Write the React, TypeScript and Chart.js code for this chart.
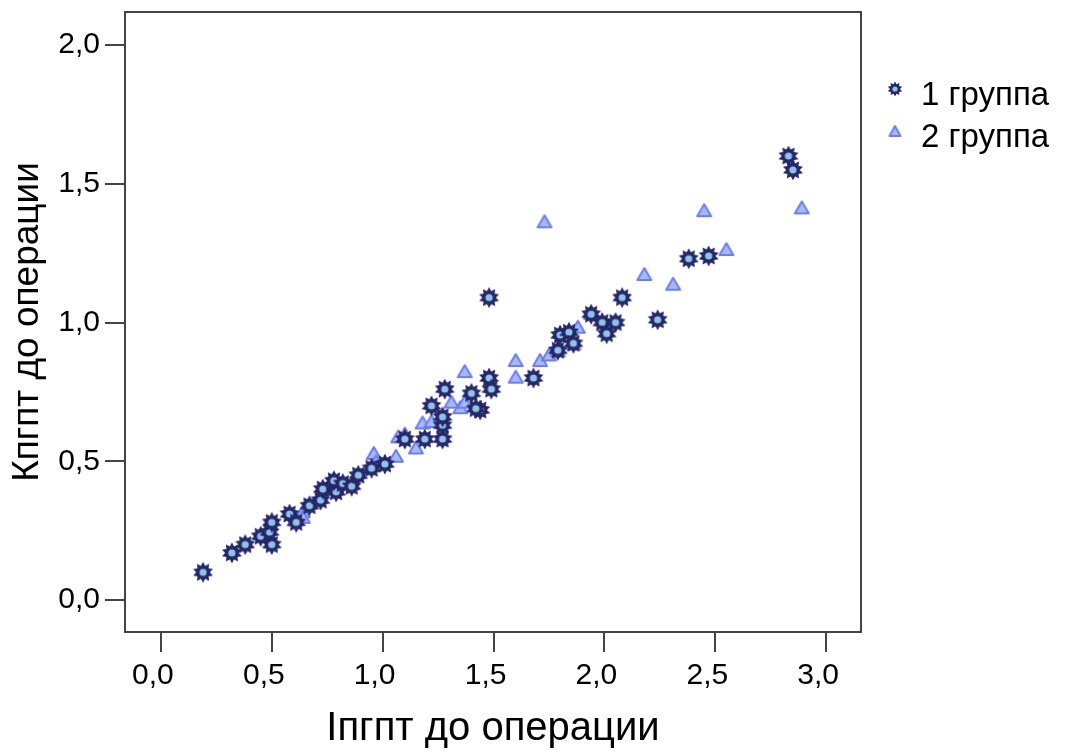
import React, { useEffect, useRef } from "react";
import { Chart, registerables } from "chart.js";

Chart.register(...registerables);

// ---- data ----
const xTickValues = [0, 0.5, 1, 1.5, 2, 2.5, 3];
const yTickValues = [0, 0.5, 1, 1.5, 2];

const seriesNames = ["1 группа", "2 группа"];
const xTitle = "Іпгпт до операции";
const yTitle = "Кпгпт до операции";

const group1X = [
  0.19, 0.32, 0.38, 0.45, 0.5, 0.49, 0.5, 0.58, 0.61, 0.67, 0.72, 0.73, 0.79, 0.78, 0.82, 0.86,
  0.89, 0.95, 1.01, 1.1, 1.19, 1.27, 1.27, 1.27, 1.22, 1.28, 1.4, 1.44, 1.42, 1.48, 1.49, 1.48,
  1.68, 1.79, 1.8, 1.84, 1.86, 1.94, 1.99, 2.01, 2.05, 2.08, 2.24, 2.38, 2.47, 2.83, 2.85,
];
const group1Y = [
  0.1, 0.17, 0.2, 0.23, 0.2, 0.245, 0.28, 0.31, 0.28, 0.34, 0.36, 0.4, 0.39, 0.43, 0.42, 0.41,
  0.45, 0.475, 0.49, 0.58, 0.58, 0.58, 0.63, 0.66, 0.7, 0.76, 0.745, 0.685, 0.69, 0.8, 0.76, 1.09,
  0.8, 0.9, 0.955, 0.965, 0.925, 1.03, 1.0, 0.96, 1.0, 1.09, 1.01, 1.23, 1.24, 1.6, 1.55,
];

const group2X = [
  0.64, 0.64, 0.96, 0.97, 1.06, 1.07, 1.1, 1.15, 1.18, 1.22, 1.31, 1.35, 1.37, 1.37, 1.6, 1.6,
  1.71, 1.75, 1.79, 1.86, 1.88, 1.94, 2.18, 2.31, 2.55, 2.45, 1.73, 2.89,
];
const group2Y = [
  0.32, 0.3, 0.53, 0.5, 0.52, 0.59, 0.6, 0.55, 0.64, 0.645, 0.715, 0.695, 0.715, 0.825, 0.865, 0.805,
  0.865, 0.885, 0.9, 0.925, 0.985, 1.035, 1.175, 1.14, 1.265, 1.405, 1.365, 1.415,
];

// ---- styling ----
const FONT = "'Liberation Sans', Arial, sans-serif";
const STAR_DARK = "#25266b";
const STAR_LIGHT = "#8ec3e2";
const TRI_FILL = "#a3bbf5";
const TRI_STROKE = "#6c7cf2";
const FRAME = "#444444";

function makeStar(size: number, ro: number, ri: number, rc: number): HTMLCanvasElement {
  const c = document.createElement("canvas");
  c.width = size;
  c.height = size;
  const g = c.getContext("2d")!;
  const cx = size / 2, cy = size / 2, n = 10;
  g.beginPath();
  for (let i = 0; i < n * 2; i++) {
    const r = i % 2 === 0 ? ro : ri;
    const a = (Math.PI * i) / n - Math.PI / 2;
    const px = cx + r * Math.cos(a);
    const py = cy + r * Math.sin(a);
    if (i === 0) g.moveTo(px, py);
    else g.lineTo(px, py);
  }
  g.closePath();
  g.fillStyle = STAR_DARK;
  g.fill();
  g.beginPath();
  g.arc(cx, cy, rc, 0, Math.PI * 2);
  g.fillStyle = STAR_LIGHT;
  g.fill();
  return c;
}

function makeTriangle(w: number, h: number): HTMLCanvasElement {
  const c = document.createElement("canvas");
  c.width = w + 4;
  c.height = h + 4;
  const g = c.getContext("2d")!;
  g.beginPath();
  g.moveTo(2 + w / 2, 2);
  g.lineTo(2 + w, 2 + h);
  g.lineTo(2, 2 + h);
  g.closePath();
  g.fillStyle = TRI_FILL;
  g.fill();
  g.lineWidth = 2;
  g.strokeStyle = TRI_STROKE;
  g.lineJoin = "round";
  g.stroke();
  return c;
}

const fmt = (v: number) => v.toFixed(1).replace(".", ",");

const noPad = (s: any) => {
  s.paddingTop = 0;
  s.paddingBottom = 0;
  s.paddingLeft = 0;
  s.paddingRight = 0;
};

export default function App() {
  const ref = useRef<HTMLCanvasElement | null>(null);

  useEffect(() => {
    if (!ref.current) return;
    const star = makeStar(24, 10.5, 6.8, 3.6);
    const tri = makeTriangle(14, 12);
    const legStar = makeStar(18, 7.5, 5, 2.6);
    const legTri = makeTriangle(11, 10);

    const framePlugin = {
      id: "frameAndLegend",
      afterDraw(chart: any) {
        const { ctx, chartArea } = chart;
        ctx.save();
        ctx.strokeStyle = FRAME;
        ctx.lineWidth = 2;
        ctx.strokeRect(chartArea.left, chartArea.top, chartArea.right - chartArea.left, chartArea.bottom - chartArea.top);
        // legend
        const lx = 895;
        const items = [
          { img: legStar, y: 89, base: 105, label: seriesNames[0] },
          { img: legTri, y: 131, base: 147, label: seriesNames[1] },
        ];
        ctx.font = `33px ${FONT}`;
        ctx.fillStyle = "#000";
        ctx.textBaseline = "alphabetic";
        ctx.textAlign = "left";
        for (const it of items) {
          ctx.drawImage(it.img, lx - it.img.width / 2, it.y - it.img.height / 2);
          ctx.fillText(it.label, 921, it.base);
        }
        ctx.restore();
      },
    };

    const chart = new Chart(ref.current, {
      type: "scatter",
      data: {
        datasets: [
          {
            label: seriesNames[0],
            data: group1X.map((x, i) => ({ x, y: group1Y[i] })),
            pointStyle: star as any,
            pointRadius: 11,
            pointHoverRadius: 11,
          },
          {
            label: seriesNames[1],
            data: group2X.map((x, i) => ({ x, y: group2Y[i] })),
            pointStyle: tri as any,
            pointRadius: 9,
            pointHoverRadius: 9,
          },
        ],
      },
      options: {
        animation: false,
        responsive: false,
        events: [],
        layout: { padding: { top: 12, right: 206, bottom: 0, left: 0 } },
        plugins: {
          legend: { display: false },
          tooltip: { enabled: false },
        },
        scales: {
          x: {
            type: "linear",
            min: -0.162,
            max: 3.157,
            border: { display: false },
            grid: {
              display: true,
              drawOnChartArea: false,
              drawTicks: true,
              tickLength: 20,
              color: FRAME,
              lineWidth: 2,
            },
            afterBuildTicks: (s: any) => {
              s.ticks = xTickValues.map((v) => ({ value: v }));
            },
            afterFit: (s: any) => {
              s.height = 121;
              noPad(s);
            },
            ticks: {
              callback: (v: any) => fmt(Number(v)),
              font: { family: FONT, size: 30 },
              color: "#000",
              padding: 6,
              labelOffset: -8,
              maxRotation: 0,
              autoSkip: false,
            },
            title: {
              display: true,
              text: xTitle,
              font: { family: FONT, size: 40 },
              color: "#000",
              padding: { top: 0, bottom: 0 },
            },
          },
          y: {
            type: "linear",
            min: -0.115,
            max: 2.119,
            border: { display: false },
            grid: {
              display: true,
              drawOnChartArea: false,
              drawTicks: true,
              tickLength: 20,
              color: FRAME,
              lineWidth: 2,
            },
            afterBuildTicks: (s: any) => {
              s.ticks = yTickValues.map((v) => ({ value: v }));
            },
            afterFit: (s: any) => {
              s.width = 125;
              noPad(s);
            },
            ticks: {
              callback: (v: any) => fmt(Number(v)),
              font: { family: FONT, size: 30 },
              color: "#000",
              padding: 5,
              autoSkip: false,
            },
            title: {
              display: true,
              text: yTitle,
              font: { family: FONT, size: 37 },
              color: "#000",
              padding: { top: 6, bottom: 0 },
            },
          },
        },
      },
      plugins: [framePlugin],
    } as any);

    return () => chart.destroy();
  }, []);

  return (
    <canvas
      ref={ref}
      width={1067}
      height={753}
      style={{ position: "fixed", left: 0, top: 0, display: "block", background: "#fff" }}
    />
  );
}
